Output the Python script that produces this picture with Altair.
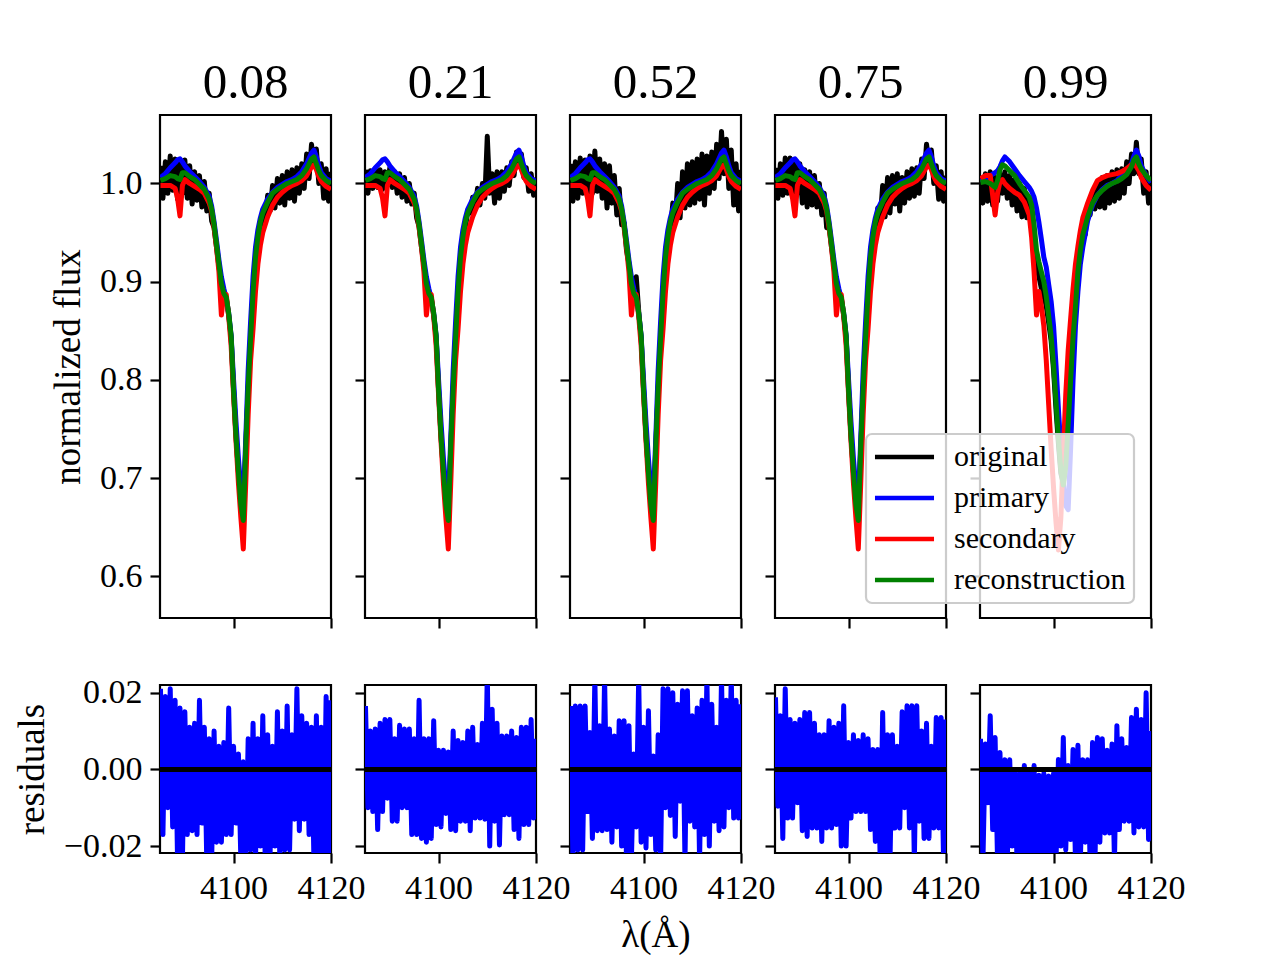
import altair as alt
import pandas as pd

FONT = "Liberation Serif"

PHASES = ["0.08", "0.21", "0.52", "0.75", "0.99"]
SERIES = ["original", "primary", "secondary", "reconstruction"]
COLORS = ["#000000", "#0000ff", "#ff0000", "#008000"]

# wavelength grid of the smooth model curves (Angstrom)
WAVE = [4085, 4086, 4087, 4088, 4088.5, 4089, 4089.5, 4090, 4091, 4092, 4093, 4094,
        4095, 4095.5, 4096, 4096.5, 4097, 4097.5, 4098, 4098.5, 4099, 4099.5, 4100,
        4100.5, 4101, 4101.5, 4102, 4102.5, 4103, 4103.5, 4104, 4104.5, 4105, 4105.5,
        4106, 4107, 4108, 4109, 4110, 4111, 4112, 4113, 4114, 4115, 4116, 4116.5,
        4117, 4117.5, 4118, 4119, 4120]

# wavelength grid of the observed spectra and residuals
WAVE_FINE = [4085.0, 4085.5, 4086.0, 4086.5, 4087.0, 4087.5, 4088.0, 4088.5, 4089.0, 4089.5,
             4090.0, 4090.5, 4091.0, 4091.5, 4092.0, 4092.5, 4093.0, 4093.5, 4094.0, 4094.5,
             4095.0, 4095.5, 4096.0, 4096.5, 4097.0, 4097.5, 4098.0, 4098.5, 4099.0, 4099.5,
             4100.0, 4100.5, 4101.0, 4101.5, 4102.0, 4102.5, 4103.0, 4103.5, 4104.0, 4104.5,
             4105.0, 4105.5, 4106.0, 4106.5, 4107.0, 4107.5, 4108.0, 4108.5, 4109.0, 4109.5,
             4110.0, 4110.5, 4111.0, 4111.5, 4112.0, 4112.5, 4113.0, 4113.5, 4114.0, 4114.5,
             4115.0, 4115.5, 4116.0, 4116.5, 4117.0, 4117.5, 4118.0, 4118.5, 4119.0, 4119.5,
             4120.0]

# primary / secondary / reconstruction, phases 0.08-0.75 (components overlap)
PRIMARY_A = [1.006, 1.010, 1.016, 1.021, 1.024, 1.025, 1.022, 1.018, 1.012, 1.007, 1.002, 0.996,
             0.987, 0.977, 0.961, 0.942, 0.922, 0.905, 0.893, 0.883, 0.868, 0.845, 0.800,
             0.757, 0.720, 0.690, 0.675, 0.740, 0.810, 0.860, 0.905, 0.935, 0.953, 0.965,
             0.974, 0.984, 0.991, 0.996, 0.999, 1.002, 1.004, 1.007, 1.012, 1.020, 1.031, 1.034,
             1.027, 1.018, 1.011, 1.005, 1.002]
SECONDARY_A = [0.998, 0.998, 0.998, 0.995, 0.985, 0.967, 0.998, 1.004, 1.000, 0.997, 0.994, 0.990,
               0.980, 0.972, 0.955, 0.935, 0.910, 0.866, 0.888, 0.887, 0.865, 0.835, 0.785,
               0.738, 0.695, 0.660, 0.628, 0.695, 0.765, 0.820, 0.852, 0.890, 0.918, 0.937,
               0.950, 0.966, 0.978, 0.986, 0.991, 0.995, 0.998, 1.000, 1.003, 1.008, 1.017, 1.019,
               1.014, 1.007, 1.002, 0.997, 0.994]
RECON_A = [1.003, 1.005, 1.008, 1.007, 1.005, 1.004, 1.011, 1.011, 1.007, 1.004, 0.999, 0.994,
           0.984, 0.974, 0.958, 0.938, 0.918, 0.898, 0.888, 0.884, 0.868, 0.845, 0.790,
           0.743, 0.706, 0.673, 0.657, 0.732, 0.793, 0.843, 0.890, 0.925, 0.946, 0.961,
           0.970, 0.981, 0.990, 0.994, 0.997, 1.000, 1.002, 1.004, 1.008, 1.015, 1.025, 1.027,
           1.020, 1.013, 1.008, 1.003, 1.000]

# phase 0.99 (components separated)
PRIMARY_E = [1.002, 1.005, 1.008, 1.011, 1.013, 1.017, 1.023, 1.027, 1.022, 1.015, 1.008, 1.002,
             0.996, 0.992, 0.986, 0.975, 0.960, 0.943, 0.925, 0.915, 0.897, 0.880, 0.855,
             0.815, 0.770, 0.730, 0.695, 0.672, 0.668, 0.730, 0.800, 0.855, 0.890, 0.918,
             0.935, 0.962, 0.978, 0.988, 0.994, 0.998, 1.000, 1.003, 1.008, 1.013, 1.020, 1.028,
             1.034, 1.028, 1.018, 1.008, 1.001]
SECONDARY_E = [1.005, 1.008, 1.008, 0.968, 0.990, 1.002, 1.004, 1.000, 0.995, 0.991, 0.988, 0.981,
               0.968, 0.945, 0.910, 0.866, 0.890, 0.875, 0.855, 0.820, 0.775, 0.730, 0.690,
               0.655, 0.627, 0.660, 0.725, 0.785, 0.830, 0.862, 0.893, 0.918, 0.936, 0.952,
               0.965, 0.980, 0.993, 1.003, 1.006, 1.008, 1.009, 1.010, 1.012, 1.015, 1.019, 1.020,
               1.017, 1.013, 1.006, 0.998, 0.993]
RECON_E = [1.001, 1.002, 1.000, 0.996, 1.003, 1.014, 1.019, 1.018, 1.013, 1.008, 1.000, 0.993,
           0.986, 0.978, 0.958, 0.932, 0.920, 0.910, 0.900, 0.885, 0.865, 0.845, 0.815,
           0.778, 0.740, 0.708, 0.693, 0.712, 0.755, 0.800, 0.843, 0.875, 0.910, 0.932,
           0.948, 0.966, 0.980, 0.988, 0.993, 0.997, 1.000, 1.002, 1.005, 1.009, 1.017, 1.024,
           1.027, 1.020, 1.015, 1.008, 1.003]

# observed (original) spectra, one per phase
ORIG_1 = [1.018, 0.985, 1.022, 0.990, 1.028, 0.993, 1.025, 0.984, 1.020, 0.990,
          1.024, 0.985, 1.018, 0.979, 1.012, 0.983, 1.008, 0.976, 1.002, 0.972,
          0.990, 0.962, 0.955, 0.935, 0.915, 0.900, 0.886, 0.882, 0.866, 0.843,
          0.790, 0.743, 0.706, 0.673, 0.657, 0.730, 0.790, 0.840, 0.886, 0.918,
          0.940, 0.952, 0.972, 0.962, 0.988, 0.972, 0.998, 0.975, 1.005, 0.980,
          1.008, 0.978, 1.012, 0.985, 1.014, 0.982, 1.016, 0.990, 1.020, 0.995,
          1.030, 1.005, 1.040, 1.018, 1.035, 1.000, 1.020, 0.985, 1.015, 0.982,
          1.012]
ORIG_2 = [1.014, 0.990, 1.013, 0.995, 1.015, 0.996, 1.014, 0.994, 1.012, 0.998,
          1.016, 0.996, 1.012, 0.990, 1.010, 0.986, 1.006, 0.982, 1.000, 0.979,
          0.990, 0.965, 0.956, 0.935, 0.916, 0.898, 0.886, 0.882, 0.866, 0.843,
          0.790, 0.743, 0.706, 0.673, 0.657, 0.730, 0.790, 0.840, 0.886, 0.920,
          0.942, 0.955, 0.972, 0.970, 0.986, 0.975, 0.995, 0.978, 1.000, 0.985,
          1.048, 0.990, 1.010, 0.980, 1.012, 0.985, 1.012, 0.992, 1.016, 0.998,
          1.022, 1.008, 1.032, 1.020, 1.030, 1.006, 1.016, 0.992, 1.010, 0.988,
          1.006]
ORIG_3 = [1.020, 0.982, 1.022, 0.985, 1.026, 0.990, 1.024, 0.986, 1.028, 0.990,
          1.033, 0.992, 1.025, 0.985, 1.020, 0.975, 1.018, 0.980, 1.008, 0.968,
          0.995, 0.958, 0.960, 0.932, 0.918, 0.900, 0.900, 0.905, 0.870, 0.843,
          0.790, 0.743, 0.706, 0.673, 0.657, 0.730, 0.790, 0.840, 0.886, 0.918,
          0.945, 0.950, 0.980, 0.962, 1.000, 0.965, 1.012, 0.975, 1.020, 0.978,
          1.022, 0.980, 1.025, 0.984, 1.030, 0.978, 1.028, 0.990, 1.032, 0.995,
          1.040, 1.005, 1.053, 1.010, 1.045, 0.995, 1.034, 0.978, 1.020, 0.972,
          1.014]
ORIG_4 = [1.016, 0.985, 1.020, 0.988, 1.026, 0.990, 1.026, 0.986, 1.022, 0.990,
          1.020, 0.980, 1.014, 0.976, 1.012, 0.978, 1.008, 0.976, 1.000, 0.968,
          0.990, 0.955, 0.957, 0.935, 0.916, 0.898, 0.886, 0.882, 0.866, 0.843,
          0.790, 0.743, 0.706, 0.673, 0.657, 0.730, 0.790, 0.840, 0.886, 0.915,
          0.942, 0.945, 0.975, 0.964, 0.998, 0.966, 1.006, 0.970, 1.008, 0.979,
          1.010, 0.972, 1.006, 0.980, 1.012, 0.985, 1.015, 0.987, 1.016, 0.990,
          1.025, 1.005, 1.040, 1.020, 1.034, 1.000, 1.018, 0.984, 1.012, 0.982,
          1.008]
ORIG_5 = [1.008, 0.980, 1.010, 0.982, 1.012, 0.978, 1.006, 0.982, 1.010, 0.990,
          1.012, 0.985, 1.008, 0.978, 1.004, 0.972, 1.000, 0.966, 0.995, 0.965,
          0.985, 0.955, 0.945, 0.918, 0.905, 0.893, 0.886, 0.875, 0.858, 0.840,
          0.810, 0.770, 0.735, 0.705, 0.695, 0.718, 0.765, 0.810, 0.853, 0.878,
          0.910, 0.928, 0.950, 0.948, 0.975, 0.968, 0.990, 0.974, 1.000, 0.976,
          1.006, 0.975, 1.008, 0.980, 1.012, 0.982, 1.014, 0.985, 1.015, 0.990,
          1.022, 1.000, 1.030, 1.010, 1.042, 1.010, 1.025, 0.990, 1.012, 0.980,
          1.005]

# residuals, one per phase
RESID_1 = [0.021, -0.017, 0.019, -0.010, 0.021, -0.015, 0.018, -0.024, 0.016, -0.024,
           0.015, -0.017, 0.011, -0.016, 0.012, -0.017, 0.018, -0.014, 0.011, -0.024,
           0.008, -0.024, 0.010, -0.019, 0.006, -0.019, 0.007, -0.017, 0.016, -0.017,
           0.006, -0.014, 0.004, -0.024, 0.002, -0.024, 0.008, -0.021, 0.012, -0.024,
           0.008, -0.020, 0.014, -0.024, 0.009, -0.022, 0.006, -0.020, 0.015, -0.024,
           0.010, -0.021, 0.0165, -0.021, 0.009, -0.013, 0.021, -0.016, 0.014, -0.013,
           0.012, -0.017, 0.011, -0.024, 0.014, -0.024, 0.011, -0.024, 0.019, -0.024,
           0.018]
RESID_2 = [0.0165, -0.010, 0.010, -0.011, 0.0105, -0.0157, 0.012, -0.011, 0.013, -0.0075,
           0.013, -0.0135, 0.008, -0.0135, 0.0115, -0.010, 0.0105, -0.010, 0.0105, -0.017,
           0.008, -0.017, 0.018, -0.018, 0.008, -0.019, 0.008, -0.018, 0.0127, -0.0144,
           0.005, -0.015, 0.005, -0.0115, 0.0045, -0.0157, 0.010, -0.016, 0.0075, -0.0135,
           0.007, -0.0135, 0.010, -0.016, 0.011, -0.0127, 0.0065, -0.0127, 0.012, -0.013,
           0.025, -0.020, 0.0157, -0.0135, 0.012, -0.0197, 0.0087, -0.0118, 0.0087, -0.0118,
           0.010, -0.0157, 0.0083, -0.018, 0.011, -0.0144, 0.011, -0.0144, 0.013, -0.0127,
           0.008]
RESID_3 = [0.0165, -0.024, 0.0165, -0.021, 0.0165, -0.021, 0.0165, -0.011, 0.0096, -0.018,
           0.024, -0.016, 0.0114, -0.016, 0.024, -0.0157, 0.0105, -0.019, 0.0087, -0.015,
           0.0127, -0.020, 0.0127, -0.024, 0.0114, -0.024, 0.004, -0.015, 0.024, -0.019,
           0.011, -0.0205, 0.0153, -0.017, 0.0035, -0.021, 0.009, -0.024, 0.021, -0.010,
           0.021, -0.012, 0.020, -0.0175, 0.017, -0.0083, 0.0205, -0.024, 0.0205, -0.0135,
           0.014, -0.015, 0.016, -0.024, 0.018, -0.017, 0.024, -0.020, 0.017, -0.0135,
           0.011, -0.016, 0.024, -0.015, 0.018, -0.010, 0.024, -0.0127, 0.018, -0.0127,
           0.017]
RESID_4 = [0.0188, -0.0096, 0.014, -0.018, 0.021, -0.0127, 0.013, -0.0127, 0.012, -0.0087,
           0.013, -0.016, 0.0148, -0.0175, 0.0148, -0.0153, 0.012, -0.0153, 0.009, -0.0188,
           0.009, -0.0153, 0.0127, -0.0153, 0.011, -0.0144, 0.012, -0.020, 0.0166, -0.020,
           0.007, -0.0127, 0.009, -0.011, 0.0075, -0.011, 0.009, -0.011, 0.008, -0.0157,
           0.0052, -0.0188, 0.0052, -0.024, 0.0148, -0.024, 0.009, -0.024, 0.009, -0.0153,
           0.006, -0.0153, 0.015, -0.010, 0.0166, -0.0153, 0.0166, -0.024, 0.0166, -0.0135,
           0.010, -0.018, 0.012, -0.018, 0.006, -0.0153, 0.0135, -0.0153, 0.0135, -0.024,
           0.013]
RESID_5 = [0.008, -0.024, 0.0066, -0.0087, 0.014, -0.0157, 0.0083, -0.024, 0.0044, -0.024,
           0.0025, -0.024, 0.0025, -0.020, 0.000, -0.024, -0.001, -0.024, 0.001, -0.024,
           -0.001, -0.024, 0.001, -0.024, -0.0015, -0.024, -0.001, -0.024, -0.0017, -0.024,
           -0.001, -0.024, 0.0026, -0.020, 0.0083, -0.021, 0.001, -0.0183, 0.0052, -0.024,
           0.0063, -0.024, 0.0025, -0.019, 0.0025, -0.024, 0.007, -0.024, 0.0083, -0.019,
           0.008, -0.0166, 0.005, -0.0166, 0.0066, -0.024, 0.0114, -0.0157, 0.008, -0.0135,
           0.0057, -0.0135, 0.0135, -0.0166, 0.0157, -0.015, 0.013, -0.015, 0.020, -0.0183,
           0.010]

ORIGINAL = [ORIG_1, ORIG_2, ORIG_3, ORIG_4, ORIG_5]
PRIMARY = [PRIMARY_A, PRIMARY_A, PRIMARY_A, PRIMARY_A, PRIMARY_E]
SECONDARY = [SECONDARY_A, SECONDARY_A, SECONDARY_A, SECONDARY_A, SECONDARY_E]
RECON = [RECON_A, RECON_A, RECON_A, RECON_A, RECON_E]
RESID = [RESID_1, RESID_2, RESID_3, RESID_4, RESID_5]
ZERO_LEVEL = 0.0

XDOM = [4084.9, 4120.0]
XTICKS = [4100, 4120]
YDOM_TOP = [0.5577, 1.0697]
YTICKS_TOP = [0.6, 0.7, 0.8, 0.9, 1.0]
YDOM_RES = [-0.0218, 0.0220]
YTICKS_RES = [-0.02, 0.0, 0.02]

PW, PH_TOP, PH_BOT = 171, 503, 168
LW = 5

color_scale = alt.Scale(domain=SERIES, range=COLORS)
legend = alt.Legend(title=None, orient="none", legendX=706, legendY=319,
                    symbolType="M-2.46,0H2.46", symbolSize=576, symbolStrokeWidth=4.5,
                    symbolOffset=15.5, labelOffset=34.5, rowPadding=11, padding=8,
                    labelFontSize=30, labelFont=FONT, labelColor="black", labelLimit=400,
                    fillColor="rgba(255,255,255,0.8)", strokeColor="#cccccc",
                    cornerRadius=6)


def top_panel(i):
    first = i == 0
    x = alt.X("wl:Q", scale=alt.Scale(domain=XDOM, nice=False, zero=False),
              axis=alt.Axis(values=XTICKS, labels=False, title=None))
    y = alt.Y("flux:Q", scale=alt.Scale(domain=YDOM_TOP, nice=False, zero=False),
              axis=alt.Axis(values=YTICKS_TOP, format=".1f", labels=first,
                            title="normalized flux" if first else None))
    parts = [("original", WAVE_FINE, ORIGINAL[i]), ("primary", WAVE, PRIMARY[i]),
             ("secondary", WAVE, SECONDARY[i]), ("reconstruction", WAVE, RECON[i])]
    layers = []
    for name, wl, vals in parts:
        df = pd.DataFrame({"wl": wl, "flux": vals, "series": name})
        layers.append(
            alt.Chart(df).mark_line(strokeWidth=LW, clip=True, strokeJoin="round")
            .encode(x=x, y=y, color=alt.Color("series:N", scale=color_scale, legend=legend))
        )
    return alt.layer(*layers).properties(
        width=PW, height=PH_TOP,
        title=alt.TitleParams(PHASES[i], font=FONT, fontSize=49, fontWeight="normal",
                              color="black", offset=7))


def bottom_panel(i):
    first = i == 0
    x = alt.X("wl:Q", scale=alt.Scale(domain=XDOM, nice=False, zero=False),
              axis=alt.Axis(values=XTICKS, format="d", labelFlush=False, labelOverlap=False,
                            title="λ(Å)" if i == 2 else None))
    y = alt.Y("res:Q", scale=alt.Scale(domain=YDOM_RES, nice=False, zero=False),
              axis=alt.Axis(values=YTICKS_RES, format=".2f", labels=first,
                            title="residuals" if first else None))
    df = pd.DataFrame({"wl": WAVE_FINE, "res": RESID[i]})
    line = alt.Chart(df).mark_line(color="#0000ff", strokeWidth=LW, clip=True,
                                   strokeJoin="round").encode(x=x, y=y)
    zero = alt.Chart(pd.DataFrame({"res": [ZERO_LEVEL]})).mark_rule(
        color="black", strokeWidth=LW).encode(y=alt.Y("res:Q"))
    return alt.layer(line, zero).properties(width=PW, height=PH_BOT)


top = alt.hconcat(*[top_panel(i) for i in range(5)], spacing=34, bounds="flush")
bot = alt.hconcat(*[bottom_panel(i) for i in range(5)], spacing=34, bounds="flush")

chart = (
    alt.vconcat(top, bot, spacing=43)
    .properties(padding={"left": 4, "top": 49, "right": 10, "bottom": 0}, background="white")
    .configure_view(stroke="black", strokeWidth=2.2)
    .configure_axis(domain=False, grid=False, ticks=True, tickColor="black", tickWidth=2.2,
                    tickSize=10, labelFont=FONT, labelFontSize=34, labelColor="black",
                    labelPadding=8, titleFont=FONT, titleFontSize=37, titleFontWeight="normal",
                    titleColor="black", titlePadding=12)
    .configure_legend(strokeWidth=2.2)
)

chart.save("out.html", embed_options={"renderer": "svg", "actions": False})
